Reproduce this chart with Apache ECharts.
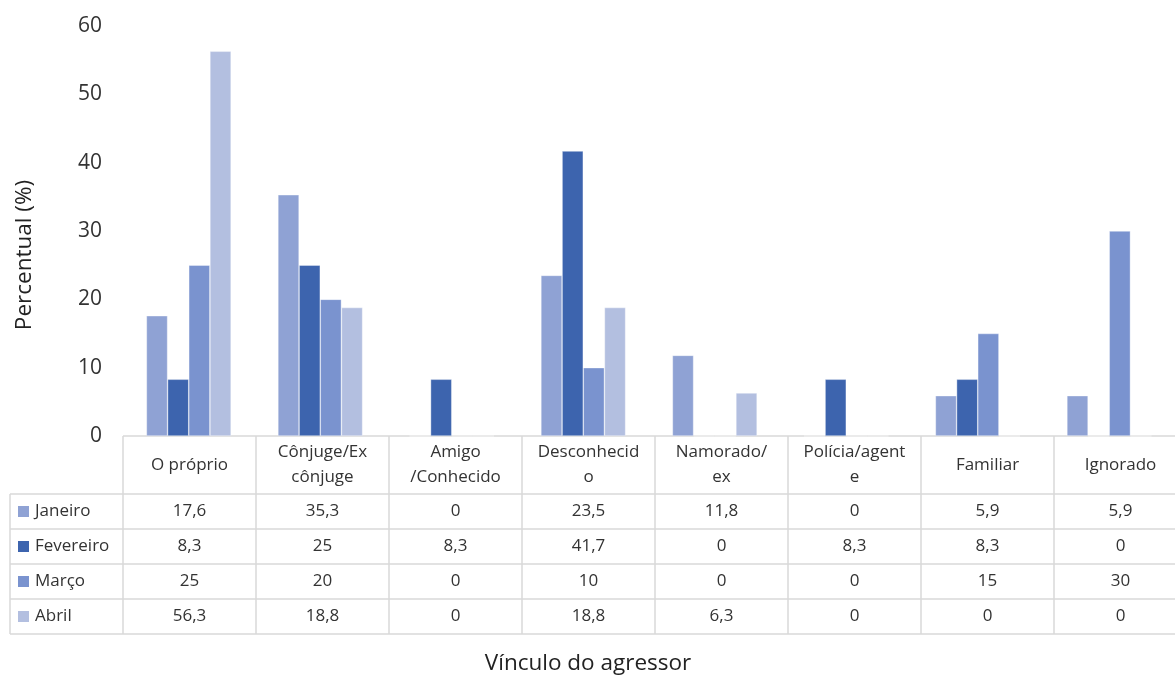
<!DOCTYPE html>
<html>
<head>
<meta charset="utf-8">
<script src="https://cdn.jsdelivr.net/npm/echarts@6/dist/echarts.min.js"></script>
<style>
html,body{margin:0;padding:0;background:#fff;}
#chart{width:1175px;height:680px;}
</style>
</head>
<body>
<div id="chart"></div>
<script>
// ---- Data ----
const categories = ['O próprio', 'Cônjuge/Ex\ncônjuge', 'Amigo\n/Conhecido', 'Desconhecid\no', 'Namorado/\nex', 'Polícia/agent\ne', 'Familiar', 'Ignorado'];
const seriesNames = ['Janeiro', 'Fevereiro', 'Março', 'Abril'];
const janeiro   = [17.6, 35.3, 0, 23.5, 11.8, 0, 5.9, 5.9];
const fevereiro = [8.3, 25, 8.3, 41.7, 0, 8.3, 8.3, 0];
const marco     = [25, 20, 0, 10, 0, 0, 15, 30];
const abril     = [56.3, 18.8, 0, 18.8, 6.3, 0, 0, 0];
const yTicks = [0, 10, 20, 30, 40, 50, 60];
const yAxisTitle = 'Percentual (%)';
const xAxisTitle = 'Vínculo do agressor';

// ---- Styles / layout ----
const colors = ['#8FA2D4', '#3D64AE', '#7A93CF', '#B3BFE0'];
const FONT = '"Open Sans", Lato, sans-serif';
const TXT = '#333333';
const LINE = '#D9D9D9';
const gridLeft = 123, gridTop = 26, gridBottomY = 436;
const catW = 133;
const gridW = catW * categories.length;
const tableLeft = 10, headerH = 58, rowH = 35;

const allSeries = [janeiro, fevereiro, marco, abril];
const fmt = v => String(v).replace('.', ',');

const graphics = [];
const rows = seriesNames.length;
const tableBottom = gridBottomY + headerH + rows * rowH;
// horizontal lines
graphics.push({type:'line', shape:{x1:gridLeft, y1:gridBottomY, x2:gridLeft+gridW, y2:gridBottomY}, style:{stroke:LINE, lineWidth:1.5}, silent:true});
for (let r = 0; r <= rows; r++) {
  const y = gridBottomY + headerH + r * rowH;
  graphics.push({type:'line', shape:{x1:tableLeft, y1:y, x2:gridLeft+gridW, y2:y}, style:{stroke:LINE, lineWidth:1.5}, silent:true});
}
// vertical lines
graphics.push({type:'line', shape:{x1:tableLeft, y1:gridBottomY+headerH, x2:tableLeft, y2:tableBottom}, style:{stroke:LINE, lineWidth:1.5}, silent:true});
for (let c = 0; c <= categories.length; c++) {
  const x = gridLeft + c * catW;
  graphics.push({type:'line', shape:{x1:x, y1:gridBottomY, x2:x, y2:tableBottom}, style:{stroke:LINE, lineWidth:1.5}, silent:true});
}
// header text
categories.forEach((cat, c) => {
  graphics.push({type:'text', silent:true, style:{text:cat, x:gridLeft + c*catW + catW/2, y:gridBottomY + headerH/2, textAlign:'center', textVerticalAlign:'middle', font:'17px ' + FONT, fill:TXT, lineHeight:25}});
});
// rows
seriesNames.forEach((name, r) => {
  const yc = gridBottomY + headerH + r*rowH + rowH/2;
  graphics.push({type:'rect', silent:true, shape:{x:18, y:yc-5.5, width:11, height:11}, style:{fill:colors[r]}});
  graphics.push({type:'text', silent:true, style:{text:name, x:35, y:yc, textAlign:'left', textVerticalAlign:'middle', font:'17px ' + FONT, fill:TXT}});
  allSeries[r].forEach((v, c) => {
    graphics.push({type:'text', silent:true, style:{text:fmt(v), x:gridLeft + c*catW + catW/2, y:yc, textAlign:'center', textVerticalAlign:'middle', font:'17px ' + FONT, fill:TXT}});
  });
});
// axis titles
graphics.push({type:'text', silent:true, x:25, y:255, rotation:Math.PI/2, style:{text:yAxisTitle, x:0, y:0, textAlign:'center', textVerticalAlign:'middle', font:'22.5px ' + FONT, fill:'#222'}});
graphics.push({type:'text', silent:true, style:{text:xAxisTitle, x:588, y:664, textAlign:'center', textVerticalAlign:'middle', font:'22.5px ' + FONT, fill:'#222'}});

const chart = echarts.init(document.getElementById('chart'));
chart.setOption({
  animation:false,
  backgroundColor:'#fff',
  grid:{left:gridLeft, top:gridTop, width:gridW, height:gridBottomY-gridTop, containLabel:false},
  xAxis:{type:'category', data:categories, axisLine:{show:false}, axisTick:{show:false}, axisLabel:{show:false}, splitLine:{show:false}},
  yAxis:{type:'value', min:yTicks[0], max:yTicks[yTicks.length-1], interval:yTicks[1]-yTicks[0],
    axisLine:{show:false}, axisTick:{show:false}, splitLine:{show:false},
    axisLabel:{fontSize:21, fontFamily:FONT, color:TXT, margin:21}},
  series: seriesNames.map((n, i) => ({
    name:n, type:'bar', data:allSeries[i], barGap:'0%', barCategoryGap:'35.6%',
    itemStyle:{color:colors[i], borderColor:'rgba(255,255,255,0.6)', borderWidth:0.6}
  })),
  graphic: graphics
});
</script>
</body>
</html>
